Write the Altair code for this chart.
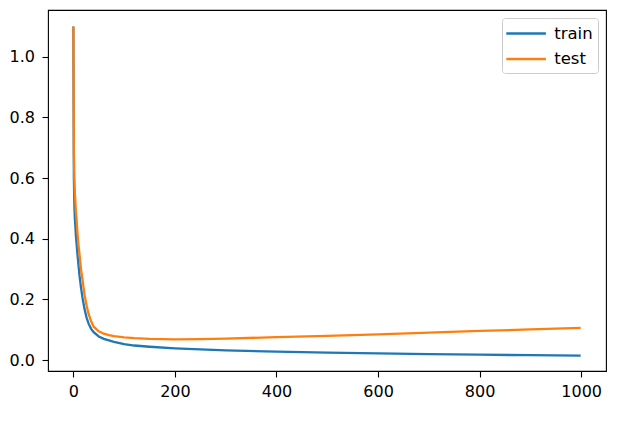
import altair as alt
import pandas as pd

epochs = [0, 1, 2, 3, 4, 5, 6, 8, 10, 12, 15, 18, 22, 26, 30, 35, 40, 50, 60, 70,
          80, 100, 120, 150, 200, 250, 300, 400, 500, 600, 700, 800, 900, 999]

train_loss = [1.10, 0.60, 0.51, 0.465, 0.44, 0.41, 0.39, 0.35, 0.315, 0.28, 0.24,
              0.205, 0.168, 0.14, 0.12, 0.103, 0.092, 0.078, 0.070, 0.065, 0.060,
              0.0525, 0.048, 0.044, 0.0387, 0.035, 0.032, 0.0276, 0.0245, 0.022,
              0.0197, 0.0177, 0.016, 0.0145]

test_loss = [1.10, 0.68, 0.60, 0.55, 0.52, 0.49, 0.47, 0.42, 0.38, 0.35, 0.30,
             0.265, 0.215, 0.18, 0.152, 0.128, 0.11, 0.095, 0.087, 0.082, 0.079,
             0.075, 0.0725, 0.070, 0.0685, 0.069, 0.071, 0.0755, 0.080, 0.085,
             0.0905, 0.096, 0.101, 0.106]

series_names = ["train", "test"]
series_colors = ["#1f77b4", "#ff7f0e"]
x_ticks = [0, 200, 400, 600, 800, 1000]
y_ticks = [0.0, 0.2, 0.4, 0.6, 0.8, 1.0]

rows = []
for name, vals in zip(series_names, [train_loss, test_loss]):
    for e, v in zip(epochs, vals):
        rows.append({"epoch": e, "loss": v, "series": name})
df = pd.DataFrame(rows)

FONT = "DejaVu Sans"
FS = 16

chart = alt.Chart(df).mark_line(strokeWidth=2.3).encode(
    x=alt.X("epoch:Q",
            scale=alt.Scale(domain=[-49.95, 1048.95], nice=False, zero=False),
            axis=alt.Axis(values=x_ticks, title=None, grid=False, domain=False,
                          tickSize=6, tickWidth=1.1, tickColor="black",
                          labelFont=FONT, labelFontSize=FS, labelColor="black",
                          labelPadding=6, format="d")),
    y=alt.Y("loss:Q",
            scale=alt.Scale(domain=[-0.036, 1.154], nice=False, zero=False),
            axis=alt.Axis(values=y_ticks, title=None, grid=False, domain=False,
                          tickSize=6, tickWidth=1.1, tickColor="black",
                          labelFont=FONT, labelFontSize=FS, labelColor="black",
                          labelPadding=7.5, format=".1f")),
    color=alt.Color("series:N",
                    scale=alt.Scale(domain=series_names, range=series_colors),
                    sort=series_names,
                    legend=alt.Legend(title=None, orient="top-right", offset=8,
                                      symbolType="M-2.2,0H2.2", symbolSize=324,
                                      symbolStrokeWidth=2.3, symbolOffset=8.6,
                                      labelFont=FONT, labelFontSize=16.5,
                                      labelColor="black", labelOffset=17.6,
                                      padding=5, rowPadding=6.5,
                                      strokeColor="#cccccc", cornerRadius=3,
                                      fillColor="white")),
    order=alt.Order("epoch:Q"),
).properties(
    width=558,
    height=361,
    autosize=alt.AutoSizeParams(type="none"),
    padding={"left": 40, "top": 2, "right": 13, "bottom": 46},
).configure(
    background="white",
    view=alt.ViewConfig(stroke="black", strokeWidth=1.1),
)

chart.save("out.html", embed_options={"renderer": "svg", "actions": False})
